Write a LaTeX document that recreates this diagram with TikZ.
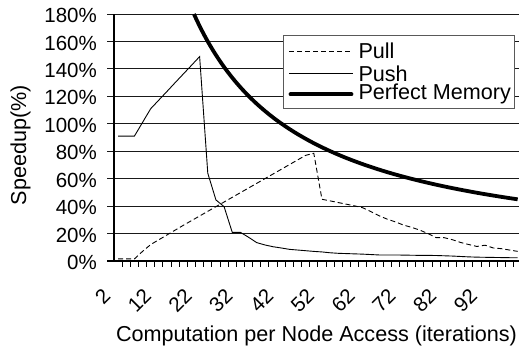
\documentclass[tikz,border=0pt]{standalone}
\usepackage{fontspec}
\setmainfont{Liberation Sans}
\begin{document}
\begin{tikzpicture}[x=1pt,y=1pt,
  gridline/.style={line width=0.9pt, black!90},
  axisline/.style={line width=1.1pt, black},
  ticklab/.style={font=\fontsize{20.5}{22}\selectfont, inner sep=0pt},
  titlelab/.style={font=\fontsize{21.6}{24}\selectfont, inner sep=0pt},
  pullline/.style={line width=0.9pt, dash pattern=on 5pt off 3pt, black},
  pushline/.style={line width=0.9pt, black},
  perfline/.style={line width=3.8pt, black},
  legendbox/.style={draw=black!65, line width=0.9pt, fill=white}]
\useasboundingbox (0,0) rectangle (519,350);
% plot area in category / percent units
\begin{scope}[shift={(109.92,89)}, x=8.155pt, y=1.372pt]
  \foreach \p in {20,40,...,180} \draw[gridline] (-0.358,\p) -- (50.6,\p);
  \draw[axisline] (-0.358,0) -- (50.6,0);
  \draw[axisline] (0.5,0) -- (0.5,180);
  \foreach \k in {1,...,50} \draw[line width=0.9pt] (\k+0.5,0) -- (\k+0.5,-4.4);
  % Pull
  \draw[pullline] plot coordinates {(1,1.5) (2,1.5) (3,1.5) (4,7) (5,12) (6,15.5) (7,19) (8,22.5) (9,26) (10,29.4) (11,32.8) (12,36.2) (13,39.6) (14,43) (15,46.4) (16,49.8) (17,53.2) (18,56.6) (19,60) (20,63.4) (21,66.8) (22,70.2) (23,73.6) (24,77) (25,78.5) (26,45) (27,43.8) (28,42.6) (29,41.4) (30,40.2) (31,38.8) (32,36) (33,33) (34,30.5) (35,28.5) (36,26.2) (37,24.5) (38,22.5) (39,20) (40,17) (41,17) (42,15.5) (43,13.5) (44,12) (45,10.6) (46,11.5) (47,9.5) (48,9) (49,8) (50,7)};
  % Push
  \draw[pushline] plot coordinates {(1,91) (2,91) (3,91) (4,101) (5,111) (6,117.3) (7,123.6) (8,130) (9,136.3) (10,142.6) (11,149) (12,64) (13,44.5) (14,39.6) (15,20.9) (16,20.9) (17,17.3) (18,13.4) (19,11.7) (20,10.4) (21,9.5) (22,8.5) (23,8) (24,7.5) (25,7) (26,6.6) (27,6) (28,5.6) (29,5.4) (30,5.2) (31,5) (32,4.7) (33,4.4) (34,4.4) (35,4.4) (36,4.3) (37,4.2) (38,4.1) (39,4.1) (40,4) (41,3.8) (42,3.6) (43,3.3) (44,3.0) (45,2.8) (46,2.7) (47,2.6) (48,2.5) (49,2.4) (50,2.4)};
  % Perfect Memory
  \draw[perfline] plot[domain=20.6:100, samples=90, smooth] ({\x/2}, {180*exp(-1.034*ln((\x+7.5)/28.1))});
\end{scope}
% y tick labels
\foreach \p [count=\n] in {0,20,...,180}
  \node[ticklab, anchor=east] (yl\n) at (97, {89+1.372*\p-1.5}) {\p\%};
% x tick labels
\foreach \j in {0,...,9} {
  \pgfmathtruncatemacro{\val}{2+10*\j}
  \node[ticklab, anchor=east, rotate=45] (xl\j) at ({114+(0.5+5*\j)*8.155-11.4}, 57.5) {\val};
}
% axis titles
\node[titlelab, rotate=90] (ytitle) at (20.5, 205) {Speedup(\%)};
\node[titlelab, anchor=base] (xtitle) at (316.5, 8.3) {Computation per Node Access (iterations)};
% legend
\node[legendbox, minimum width=231.3pt, minimum height=73.3pt, anchor=south west, inner sep=0pt] (legend) at (282.7,240.7) {};
\coordinate (la1) at (289.3,299); \coordinate (lb1) at (352.7,299);
\coordinate (la2) at (289.3,276.7); \coordinate (lb2) at (352.7,276.7);
\coordinate (la3) at (290.5,255.7); \coordinate (lb3) at (351.5,255.7);
\draw[pullline] (la1) -- (lb1);
\draw[pushline] (la2) -- (lb2);
\draw[perfline, line cap=round] (la3) -- (lb3);
\node[titlelab, anchor=west] (lt1) at (358.3,299) {Pull};
\node[titlelab, anchor=west] (lt2) at (358.3,276.7) {Push};
\node[titlelab, anchor=west] (lt3) at (358.3,255.7) {Perfect Memory};
\end{tikzpicture}
\end{document}
